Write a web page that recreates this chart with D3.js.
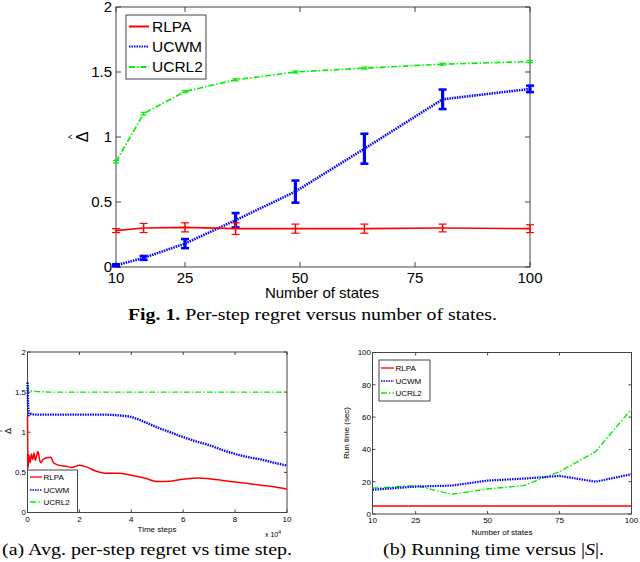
<!DOCTYPE html>
<html>
<head>
<meta charset="utf-8">
<script src="https://cdn.jsdelivr.net/npm/d3@7"></script>
<style>
  body { margin: 0; background: #fff; }
  svg { display: block; }
</style>
</head>
<body>
<div id="chart"></div>
<script>
// ---- Fig. 1 : per-step regret vs number of states
var statesTop = [10, 16, 25, 36, 49, 64, 81, 100];
var rlpaMean  = [0.28, 0.30, 0.305, 0.295, 0.295, 0.295, 0.30, 0.295];
var rlpaErr   = [0.015, 0.035, 0.035, 0.045, 0.035, 0.035, 0.03, 0.03];
var ucwmMean  = [0.013, 0.07, 0.18, 0.36, 0.58, 0.91, 1.29, 1.37];
var ucwmErr   = [0.008, 0.015, 0.035, 0.055, 0.085, 0.115, 0.075, 0.025];
var ucrl2Mean = [0.81, 1.18, 1.35, 1.44, 1.50, 1.53, 1.56, 1.58];
var ucrl2Err  = [0.01, 0.01, 0.008, 0.008, 0.008, 0.008, 0.008, 0.008];

// ---- (a) : per-step regret vs time step (x 10^4)
var rlpaT  = [0, 0.02, 0.05, 0.1, 0.15, 0.2, 0.25, 0.3, 0.4, 0.5, 0.6, 0.7, 0.9, 1.0, 1.2, 1.5, 1.7, 2.0, 2.3, 2.6, 3.0, 3.5, 4.0, 4.5, 5.0, 5.5, 6.0, 6.6, 7.0, 7.5, 8.0, 8.5, 9.0, 9.5, 10];
var rlpaV  = [1.2, 0.55, 0.72, 0.62, 0.73, 0.66, 0.74, 0.65, 0.76, 0.62, 0.66, 0.68, 0.69, 0.62, 0.59, 0.575, 0.56, 0.59, 0.565, 0.52, 0.49, 0.49, 0.465, 0.43, 0.385, 0.39, 0.415, 0.43, 0.42, 0.40, 0.38, 0.36, 0.34, 0.32, 0.29];
var ucwmT  = [0, 0.05, 0.1, 0.3, 1, 2, 3, 3.5, 4, 4.5, 5, 5.5, 6, 6.5, 7, 7.5, 8, 8.5, 9, 9.5, 10];
var ucwmV  = [1.62, 1.21, 1.23, 1.22, 1.22, 1.22, 1.22, 1.21, 1.19, 1.13, 1.06, 1.0, 0.94, 0.885, 0.84, 0.78, 0.73, 0.69, 0.66, 0.62, 0.585];
var ucrl2T = [0, 0.05, 0.1, 0.3, 1, 2, 4, 6, 8, 10];
var ucrl2V = [1.6, 1.53, 1.52, 1.51, 1.5, 1.5, 1.5, 1.5, 1.5, 1.5];

// ---- (b) : running time vs number of states
var statesRun = [10, 25, 37.5, 50, 62.5, 75, 87.5, 100];
var rlpaRun   = [5, 5, 5, 5, 5, 5, 5, 5];
var ucwmRun   = [15, 17, 17.6, 20.7, 21.9, 23.6, 20, 24.6];
var ucrl2Run  = [16, 17.6, 12.2, 15.5, 17.6, 26.2, 38.6, 65];

var names = ["RLPA", "UCWM", "UCRL2"];
var xTicksStates = [10, 25, 50, 75, 100];
var yTicksRegret = [0, 0.5, 1, 1.5, 2];
var xTicksTime = [0, 2, 4, 6, 8, 10];
var yTicksRun = [0, 20, 40, 60, 80, 100];

var styles = {
  RLPA:  {color: "#ff0000", dash: null},
  UCWM:  {color: "#0000ff", dash: "1.5,1"},
  UCRL2: {color: "#00ee00", dash: "6,2,1.5,2"}
};

var sans = "'Liberation Sans', Arial, sans-serif";
var serif = "'Liberation Serif', 'DejaVu Serif', serif";

var svg = d3.select("#chart").append("svg")
    .attr("width", 640).attr("height", 562);

// matlab style box with inward ticks on all sides
function drawBox(g, x, y, xt, yt, o) {
  var x0 = x.range()[0], x1 = x.range()[1], y0 = y.range()[0], y1 = y.range()[1];
  var tl = o.tick;
  g.append("rect").attr("x", x0).attr("y", y1).attr("width", x1 - x0).attr("height", y0 - y1)
    .attr("fill", "none").attr("stroke", "#444").attr("stroke-width", 1);
  xt.forEach(function(t) {
    g.append("line").attr("x1", x(t)).attr("x2", x(t)).attr("y1", y0).attr("y2", y0 - tl).attr("stroke", "#444");
    g.append("line").attr("x1", x(t)).attr("x2", x(t)).attr("y1", y1).attr("y2", y1 + tl).attr("stroke", "#444");
    g.append("text").attr("x", x(t)).attr("y", y0 + o.xLabOff)
      .attr("text-anchor", "middle").attr("font-family", sans).attr("font-size", o.fs).text(t);
  });
  yt.forEach(function(t) {
    g.append("line").attr("x1", x0).attr("x2", x0 + tl).attr("y1", y(t)).attr("y2", y(t)).attr("stroke", "#444");
    g.append("line").attr("x1", x1).attr("x2", x1 - tl).attr("y1", y(t)).attr("y2", y(t)).attr("stroke", "#444");
    g.append("text").attr("x", x0 - o.yLabOff).attr("y", y(t)).attr("dy", "0.35em")
      .attr("text-anchor", "end").attr("font-family", sans).attr("font-size", o.fs).text(t);
  });
}

function drawLine(g, x, y, xs, ys, name, w, curve) {
  var line = d3.line().x(function(d) { return x(d[0]); }).y(function(d) { return y(d[1]); })
    .curve(curve || d3.curveLinear);
  g.append("path").attr("d", line(d3.zip(xs, ys)))
    .attr("fill", "none").attr("stroke", styles[name].color).attr("stroke-width", w)
    .attr("stroke-dasharray", styles[name].dash);
}

function drawErr(g, x, y, xs, ms, es, name, w, cap) {
  xs.forEach(function(v, i) {
    var cx = x(v), lo = y(ms[i] - es[i]), hi = y(ms[i] + es[i]);
    var c = styles[name].color;
    g.append("line").attr("x1", cx).attr("x2", cx).attr("y1", lo).attr("y2", hi).attr("stroke", c).attr("stroke-width", w);
    g.append("line").attr("x1", cx - cap).attr("x2", cx + cap).attr("y1", lo).attr("y2", lo).attr("stroke", c).attr("stroke-width", w * 0.8);
    g.append("line").attr("x1", cx - cap).attr("x2", cx + cap).attr("y1", hi).attr("y2", hi).attr("stroke", c).attr("stroke-width", w * 0.8);
  });
}

function drawLegend(g, bx, by, bw, bh, ys, fs, lx0, lx1, tx, w) {
  g.append("rect").attr("x", bx).attr("y", by).attr("width", bw).attr("height", bh)
    .attr("fill", "#fff").attr("stroke", "#444").attr("stroke-width", 1);
  names.forEach(function(n, i) {
    g.append("line").attr("x1", lx0).attr("x2", lx1).attr("y1", ys[i]).attr("y2", ys[i])
      .attr("stroke", styles[n].color).attr("stroke-width", w).attr("stroke-dasharray", styles[n].dash);
    g.append("text").attr("x", tx).attr("y", ys[i]).attr("dy", "0.35em")
      .attr("font-family", sans).attr("font-size", fs).text(n);
  });
}

function deltaHat(g, cx, cy, fs) {
  var t = g.append("g").attr("transform", "translate(" + cx + "," + cy + ") rotate(-90)");
  t.append("text").attr("text-anchor", "middle").attr("dy", "0.35em")
    .attr("font-family", sans).attr("font-size", fs).text("\u0394");
  t.append("text").attr("text-anchor", "middle").attr("y", -fs * 0.45)
    .attr("font-family", sans).attr("font-size", fs * 0.6).text("^");
}

// ---------- top chart
var gTop = svg.append("g");
var xTop = d3.scaleLinear().domain([10, 100]).range([116, 530]);
var yTop = d3.scaleLinear().domain([0, 2]).range([267, 7]);
drawBox(gTop, xTop, yTop, xTicksStates, yTicksRegret, {tick: 5, fs: 15, xLabOff: 16, yLabOff: 4});

drawLine(gTop, xTop, yTop, statesTop, ucrl2Mean, "UCRL2", 1.6);
drawErr(gTop, xTop, yTop, statesTop, ucrl2Mean, ucrl2Err, "UCRL2", 1.5, 3);
drawLine(gTop, xTop, yTop, statesTop, ucwmMean, "UCWM", 2.6);
drawErr(gTop, xTop, yTop, statesTop, ucwmMean, ucwmErr, "UCWM", 3.2, 4);
drawLine(gTop, xTop, yTop, statesTop, rlpaMean, "RLPA", 1.6);
drawErr(gTop, xTop, yTop, statesTop, rlpaMean, rlpaErr, "RLPA", 1.5, 4);

drawLegend(gTop, 126, 15, 80, 64, [26.5, 46.5, 67], 15.5, 129, 149, 152, 2);
deltaHat(gTop, 82, 137, 16);
gTop.append("text").attr("x", 322).attr("y", 298).attr("text-anchor", "middle")
  .attr("font-family", sans).attr("font-size", 15).text("Number of states");
var cap1 = gTop.append("text").attr("x", 128).attr("y", 320)
  .attr("font-family", serif).attr("font-size", 16)
  .attr("textLength", 369).attr("lengthAdjust", "spacingAndGlyphs");
cap1.append("tspan").attr("font-weight", "bold").text("Fig. 1.");
cap1.append("tspan").text(" Per-step regret versus number of states.");

// ---------- (a)
var gA = svg.append("g");
var xA = d3.scaleLinear().domain([0, 10]).range([27.5, 287]);
var yA = d3.scaleLinear().domain([0, 2]).range([512.5, 352]);
drawBox(gA, xA, yA, xTicksTime, yTicksRegret, {tick: 3, fs: 8, xLabOff: 9, yLabOff: 1.5});
drawLine(gA, xA, yA, ucrl2T, ucrl2V, "UCRL2", 1.4, d3.curveMonotoneX);
drawLine(gA, xA, yA, ucwmT, ucwmV, "UCWM", 2.4, d3.curveMonotoneX);
drawLine(gA, xA, yA, rlpaT, rlpaV, "RLPA", 1.5, d3.curveMonotoneX);
drawLegend(gA, 27.5, 470, 50, 42.5, [477, 490, 502], 8, 30, 42, 43.5, 1.3);
deltaHat(gA, 8, 431, 9);
gA.append("text").attr("x", 157).attr("y", 532).attr("text-anchor", "middle")
  .attr("font-family", sans).attr("font-size", 8).text("Time steps");
var ex = gA.append("text").attr("x", 265).attr("y", 537)
  .attr("font-family", sans).attr("font-size", 7).text("x 10");
ex.append("tspan").attr("dy", -3).attr("font-size", 5).text("4");
gA.append("text").attr("x", 2).attr("y", 555)
  .attr("font-family", serif).attr("font-size", 16)
  .attr("textLength", 290).attr("lengthAdjust", "spacingAndGlyphs")
  .text("(a) Avg. per-step regret vs time step.");

// ---------- (b)
var gB = svg.append("g");
var xB = d3.scaleLinear().domain([10, 100]).range([372.5, 631.5]);
var yB = d3.scaleLinear().domain([0, 100]).range([514, 352.5]);
drawBox(gB, xB, yB, xTicksStates, yTicksRun, {tick: 3, fs: 8, xLabOff: 9, yLabOff: 1.5});
drawLine(gB, xB, yB, statesRun, ucrl2Run, "UCRL2", 1.4);
drawLine(gB, xB, yB, statesRun, ucwmRun, "UCWM", 2.2);
drawLine(gB, xB, yB, statesRun, rlpaRun, "RLPA", 1.5);
drawLegend(gB, 379, 360, 51, 41, [368, 381, 393], 8, 381, 394, 395.5, 1.3);
gB.append("text").attr("transform", "translate(349,433) rotate(-90)").attr("text-anchor", "middle")
  .attr("font-family", sans).attr("font-size", 8).text("Run time (sec)");
gB.append("text").attr("x", 502).attr("y", 535).attr("text-anchor", "middle")
  .attr("font-family", sans).attr("font-size", 8).text("Number of states");
var capB = gB.append("text").attr("x", 383).attr("y", 555)
  .attr("font-family", serif).attr("font-size", 16)
  .attr("textLength", 221).attr("lengthAdjust", "spacingAndGlyphs");
capB.append("tspan").text("(b) Running time versus |");
capB.append("tspan").attr("font-style", "italic").text("S");
capB.append("tspan").text("|.");
</script>
</body>
</html>
